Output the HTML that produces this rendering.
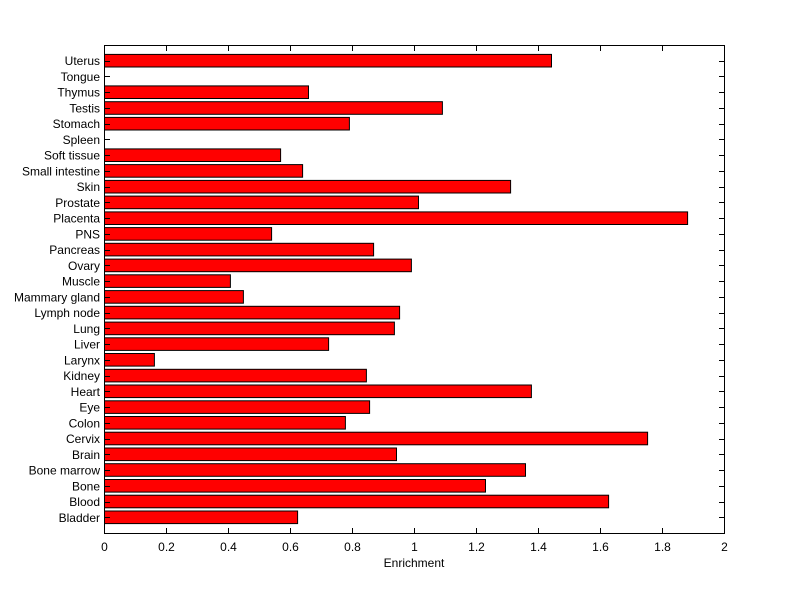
<!DOCTYPE html>
<html><head><style>body{margin:0;background:#fff}svg{display:block}text{font-family:"Liberation Sans",sans-serif;font-size:12px;fill:#000}</style></head>
<body>
<svg width="800" height="599" xmlns="http://www.w3.org/2000/svg">
<rect width="800" height="599" fill="#fff"/>
<g id="bars" stroke="#000" stroke-width="1" fill="#ff0000"></g>
<g id="ax" stroke="#000" stroke-width="1" fill="none"><rect x="104.5" y="45.5" width="620" height="488"/></g>
<g id="lbl"></g>
<text x="414" y="567" text-anchor="middle">Enrichment</text>
<script>
var names=["Uterus","Tongue","Thymus","Testis","Stomach","Spleen","Soft tissue","Small intestine","Skin","Prostate","Placenta","PNS","Pancreas","Ovary","Muscle","Mammary gland","Lymph node","Lung","Liver","Larynx","Kidney","Heart","Eye","Colon","Cervix","Brain","Bone marrow","Bone","Blood","Bladder"];
var vals=[1.442,0,0.658,1.09,0.79,0,0.568,0.639,1.31,1.013,1.881,0.539,0.868,0.99,0.406,0.448,0.952,0.935,0.723,0.161,0.845,1.377,0.855,0.777,1.752,0.942,1.358,1.229,1.626,0.623];
var NS="http://www.w3.org/2000/svg";
function el(t,a,p){var e=document.createElementNS(NS,t);for(var k in a)e.setAttribute(k,a[k]);p.appendChild(e);return e;}
var B=document.getElementById("bars"),A=document.getElementById("ax"),L=document.getElementById("lbl");
var step=488/31;
for(var i=0;i<30;i++){var cy=45+step*(i+1);
 if(vals[i]>0)el("rect",{x:104.5,y:(cy-6.3).toFixed(1),width:(vals[i]*310).toFixed(1),height:12.6},B);
 var y=Math.round(cy)+0.5;
 el("line",{x1:104,y1:y,x2:110,y2:y},A);el("line",{x1:719,y1:y,x2:725,y2:y},A);
 var t=el("text",{x:100,y:cy+4.5,"text-anchor":"end"},L);t.textContent=names[i];}
for(var j=0;j<=10;j++){var x=Math.round(104+j*62)+0.5;
 el("line",{x1:x,y1:45,x2:x,y2:51},A);el("line",{x1:x,y1:528,x2:x,y2:534},A);
 var t=el("text",{x:x,y:551,"text-anchor":"middle"},L);t.textContent=j==0?"0":j%5==0?String(j/5):(j*0.2).toFixed(1);}
</script>
</svg>
</body></html>
